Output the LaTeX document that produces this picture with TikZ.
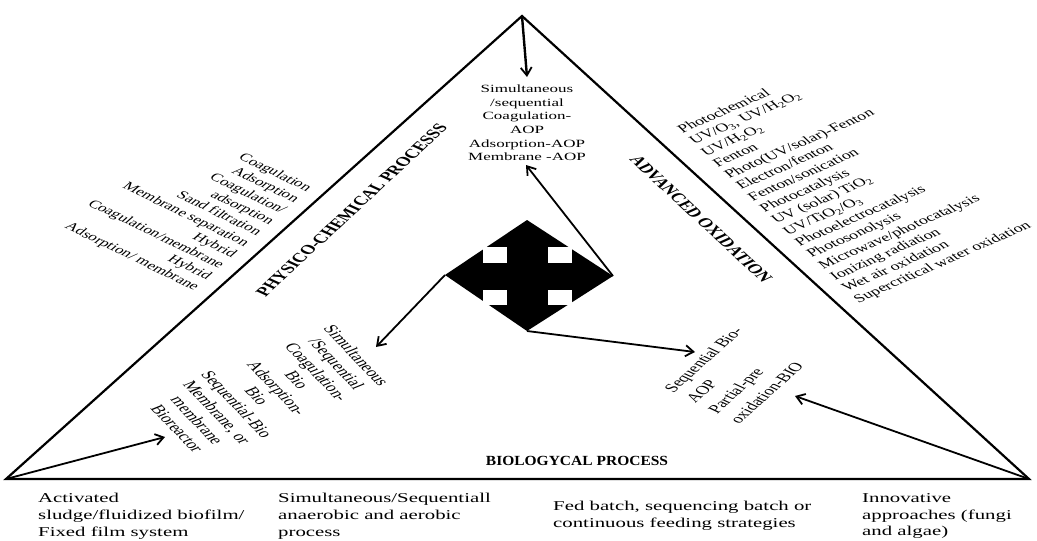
\documentclass[tikz,border=0pt]{standalone}
\usepackage{fontspec}
\setmainfont{Liberation Serif}
\usetikzlibrary{arrows.meta}
\begin{document}
\begin{tikzpicture}[x=1pt,y=-1pt,
  tri/.style={line width=2.2pt, line join=miter},
  arr/.style={line width=1.8pt, -{Straight Barb[length=8pt,width=11pt,line width=1.8pt]}},
  txt/.style={inner sep=0pt, transform shape, text=black},
  lbl/.style={txt, font=\bfseries\fontsize{20}{24}\selectfont},
  foot/.style={txt, align=left, anchor=west, font=\fontsize{20.8}{26}\selectfont},
]
\useasboundingbox (0,0) rectangle (1037,541);
% triangle
\coordinate (T) at (522,16);
\coordinate (L) at (6,479);
\coordinate (R) at (1029,479);
\draw[tri] (T) -- (L) -- (R) -- cycle;
% four-way arrow symbol
\coordinate (dW) at (445,275);
\coordinate (dN) at (527,220);
\coordinate (dE) at (613,276);
\coordinate (dS) at (527,331);
\fill (dW) -- (dN) -- (dE) -- (dS) -- cycle;
\fill[white] (483,247) rectangle (507,263);
\fill[white] (548,247) rectangle (572,263);
\fill[white] (483,290) rectangle (507,305);
\fill[white] (548,290) rectangle (572,305);
% arrows
\coordinate (tA) at (527,77);
\coordinate (tB) at (526,165);
\coordinate (tC) at (376,347);
\coordinate (tD) at (695,352);
\coordinate (tE) at (165,437);
\coordinate (tF) at (795,396);
\draw[arr, line width=2.4pt] (T) -- (tA);
\draw[arr] (dE) -- (tB);
\draw[arr] (dW) -- (tC);
\draw[arr] (dS) -- (tD);
\draw[arr] (L) -- (tE);
\draw[arr] (R) -- (tF);
% top centre text
\begin{scope}[shift={(527,123)}, yscale=0.65]
\node[txt, align=center, font=\fontsize{17}{21}\selectfont] (top) at (0,0)
 {Simultaneous\\/sequential\\Coagulation-\\AOP\\Adsorption-AOP\\Membrane -AOP};
\end{scope}
% left list
\begin{scope}[shift={(253,239)}, yscale=0.65]
\node[txt, align=right, anchor=east, rotate=-36.5, font=\fontsize{17.5}{21}\selectfont] (phys) at (0,0)
 {Coagulation\\Adsorption\\Coagulation/\\adsorption\\Sand filtration\\Membrane separation\\Hybrid\\Coagulation/membrane\\Hybrid\\Adsorption/ membrane};
\end{scope}
% right list
\begin{scope}[shift={(768,216)}, yscale=0.65]
\node[txt, align=left, anchor=west, rotate=34, font=\fontsize{18}{21}\selectfont] (aop) at (0,0)
 {Photochemical\\UV/O\textsubscript{3}, UV/H\textsubscript{2}O\textsubscript{2}\\UV/H\textsubscript{2}O\textsubscript{2}\\Fenton\\Photo(UV/solar)-Fenton\\Electron/fenton\\Fenton/sonication\\Photocatalysis\\UV (solar) TiO\textsubscript{2}\\UV/TiO\textsubscript{2}/O\textsubscript{3}\\Photoelectrocatalysis\\Photosonolysis\\Microwave/photocatalysis\\Ionizing radiation\\Wet air oxidation\\Supercritical water oxidation};
\end{scope}
% lower-left block
\begin{scope}[shift={(267,392)}, yscale=0.65]
\node[txt, align=center, rotate=-58, font=\fontsize{19.5}{23.5}\selectfont] (pcbio) at (0,0)
 {Simultaneous\\/Sequential\\Coagulation-\\Bio\\Adsorption-\\Bio\\Sequential-Bio\\Membrane, or\\membrane\\Bioreactor};
\end{scope}
% lower-right block
\begin{scope}[shift={(701,406.5)}, yscale=0.65]
\node[txt, align=left, anchor=west, rotate=54, font=\fontsize{19}{27}\selectfont] (aopbio) at (0,0)
 {Sequential Bio-\\AOP\\Partial-pre\\oxidation-BIO};
\end{scope}
% side labels
\begin{scope}[shift={(351.5,210)}, yscale=0.65]
\node[lbl, rotate=55] (lphys) at (0,0) {PHYSICO-CHEMICAL PROCESSS};
\end{scope}
\begin{scope}[shift={(701,219)}, yscale=0.65]
\node[lbl, rotate=-55] (laop) at (0,0) {ADVANCED OXIDATION};
\end{scope}
\begin{scope}[shift={(577,461)}, yscale=0.9]
\node[txt, font=\bfseries\fontsize{15.5}{19}\selectfont] (lbio) at (0,0) {BIOLOGYCAL PROCESS};
\end{scope}
% bottom texts
\begin{scope}[shift={(38,516)}, yscale=0.65]
\node[foot] (b1) at (0,0) {Activated\\sludge/fluidized biofilm/\\Fixed film system};
\end{scope}
\begin{scope}[shift={(278,516)}, yscale=0.65]
\node[foot] (b2) at (0,0) {Simultaneous/Sequentiall\\anaerobic and aerobic\\process};
\end{scope}
\begin{scope}[shift={(553,516)}, yscale=0.65]
\node[foot] (b3) at (0,0) {Fed batch, sequencing batch or\\continuous feeding strategies};
\end{scope}
\begin{scope}[shift={(862,516)}, yscale=0.65]
\node[foot] (b4) at (0,0) {Innovative\\approaches (fungi\\and algae)};
\end{scope}
\end{tikzpicture}
\end{document}
